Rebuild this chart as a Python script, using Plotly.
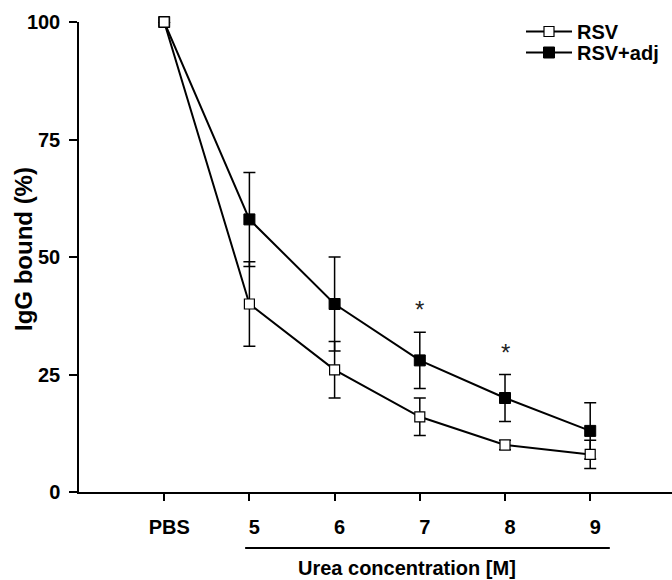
import plotly.graph_objects as go

categories = ["PBS", "5", "6", "7", "8", "9"]
rsv = [100, 40, 26, 16, 10, 8]
rsv_err = [0, 9, 6, 4, 1, 3]
rsv_adj = [100, 58, 40, 28, 20, 13]
rsv_adj_err = [0, 10, 10, 6, 5, 6]
star_points = ["7", "8"]
star_levels = [38.8, 29.6]

FONT = "Liberation Sans, Arial, sans-serif"
W, H = 672, 580
L, R, T, B = 79, 0, 22, 88
PW, PH = W - L - R, H - T - B


def px(xp):
    return (xp - L) / PW


def py(yp):
    return (H - B - yp) / PH


fig = go.Figure()
fig.add_trace(go.Scatter(
    x=categories, y=rsv_adj, name="RSV+adj", mode="lines+markers", legend="legend2",
    line=dict(color="black", width=2),
    marker=dict(symbol="square", size=11, color="black", line=dict(color="black", width=1)),
    error_y=dict(type="data", array=rsv_adj_err, color="black", thickness=1.5, width=6),
    cliponaxis=False,
))
fig.add_trace(go.Scatter(
    x=categories, y=rsv, name="RSV", mode="lines+markers", legend="legend",
    line=dict(color="black", width=2),
    marker=dict(symbol="square", size=10, color="white", line=dict(color="black", width=1.2)),
    error_y=dict(type="data", array=rsv_err, color="black", thickness=1.5, width=6),
    cliponaxis=False,
))

for c, lv in zip(star_points, star_levels):
    fig.add_annotation(x=categories.index(c), y=lv, text="*", showarrow=False, xref="x", yref="y",
                       font=dict(family=FONT, size=24, color="#222"), yanchor="middle")

fig.add_annotation(x=px(407), y=py(568), xref="paper", yref="paper", text="<b>Urea concentration [M]</b>",
                   showarrow=False, font=dict(family=FONT, size=20, color="black"),
                   xanchor="center", yanchor="middle")
fig.add_annotation(x=px(23), y=py(249), xref="paper", yref="paper", text="<b>IgG bound (%)</b>",
                   showarrow=False, textangle=-90, font=dict(family=FONT, size=24, color="black"),
                   xanchor="center", yanchor="middle")

fig.add_shape(type="line", xref="x", yref="paper", x0=0.95, x1=5.23, y0=py(548), y1=py(548),
              line=dict(color="black", width=2))

legend_style = dict(xanchor="left", yanchor="top", itemwidth=46,
                    font=dict(family=FONT, size=20, color="black", weight="bold"),
                    bgcolor="rgba(0,0,0,0)")
fig.update_layout(
    width=W, height=H,
    margin=dict(l=L, r=R, t=T, b=B, autoexpand=False),
    paper_bgcolor="white", plot_bgcolor="white",
    showlegend=True,
    legend=dict(x=px(521), y=py(12), **legend_style),
    legend2=dict(x=px(521), y=py(33), **legend_style),
    font=dict(family=FONT, color="black"),
)
fig.update_xaxes(
    type="category", range=[-1.0, 5.96], showgrid=False, zeroline=False, automargin=False,
    showline=True, linecolor="black", linewidth=1.5,
    ticks="outside", ticklen=7, tickwidth=1.5, tickcolor="black",
    tickfont=dict(family=FONT, size=20, color="black", weight="bold"),
    ticklabelstandoff=9, ticklabelshift=5,
)
fig.update_yaxes(
    range=[0, 100], tickvals=[0, 25, 50, 75, 100], showgrid=False, zeroline=False, automargin=False,
    showline=True, linecolor="black", linewidth=1.5,
    ticks="outside", ticklen=8, tickwidth=1.5, tickcolor="black",
    tickfont=dict(family=FONT, size=20, color="black", weight="bold"),
    ticklabelstandoff=5,
)

fig.write_html("out.html", config={"displayModeBar": False},
               post_script="document.body.style.margin='0';document.body.style.padding='0';")
